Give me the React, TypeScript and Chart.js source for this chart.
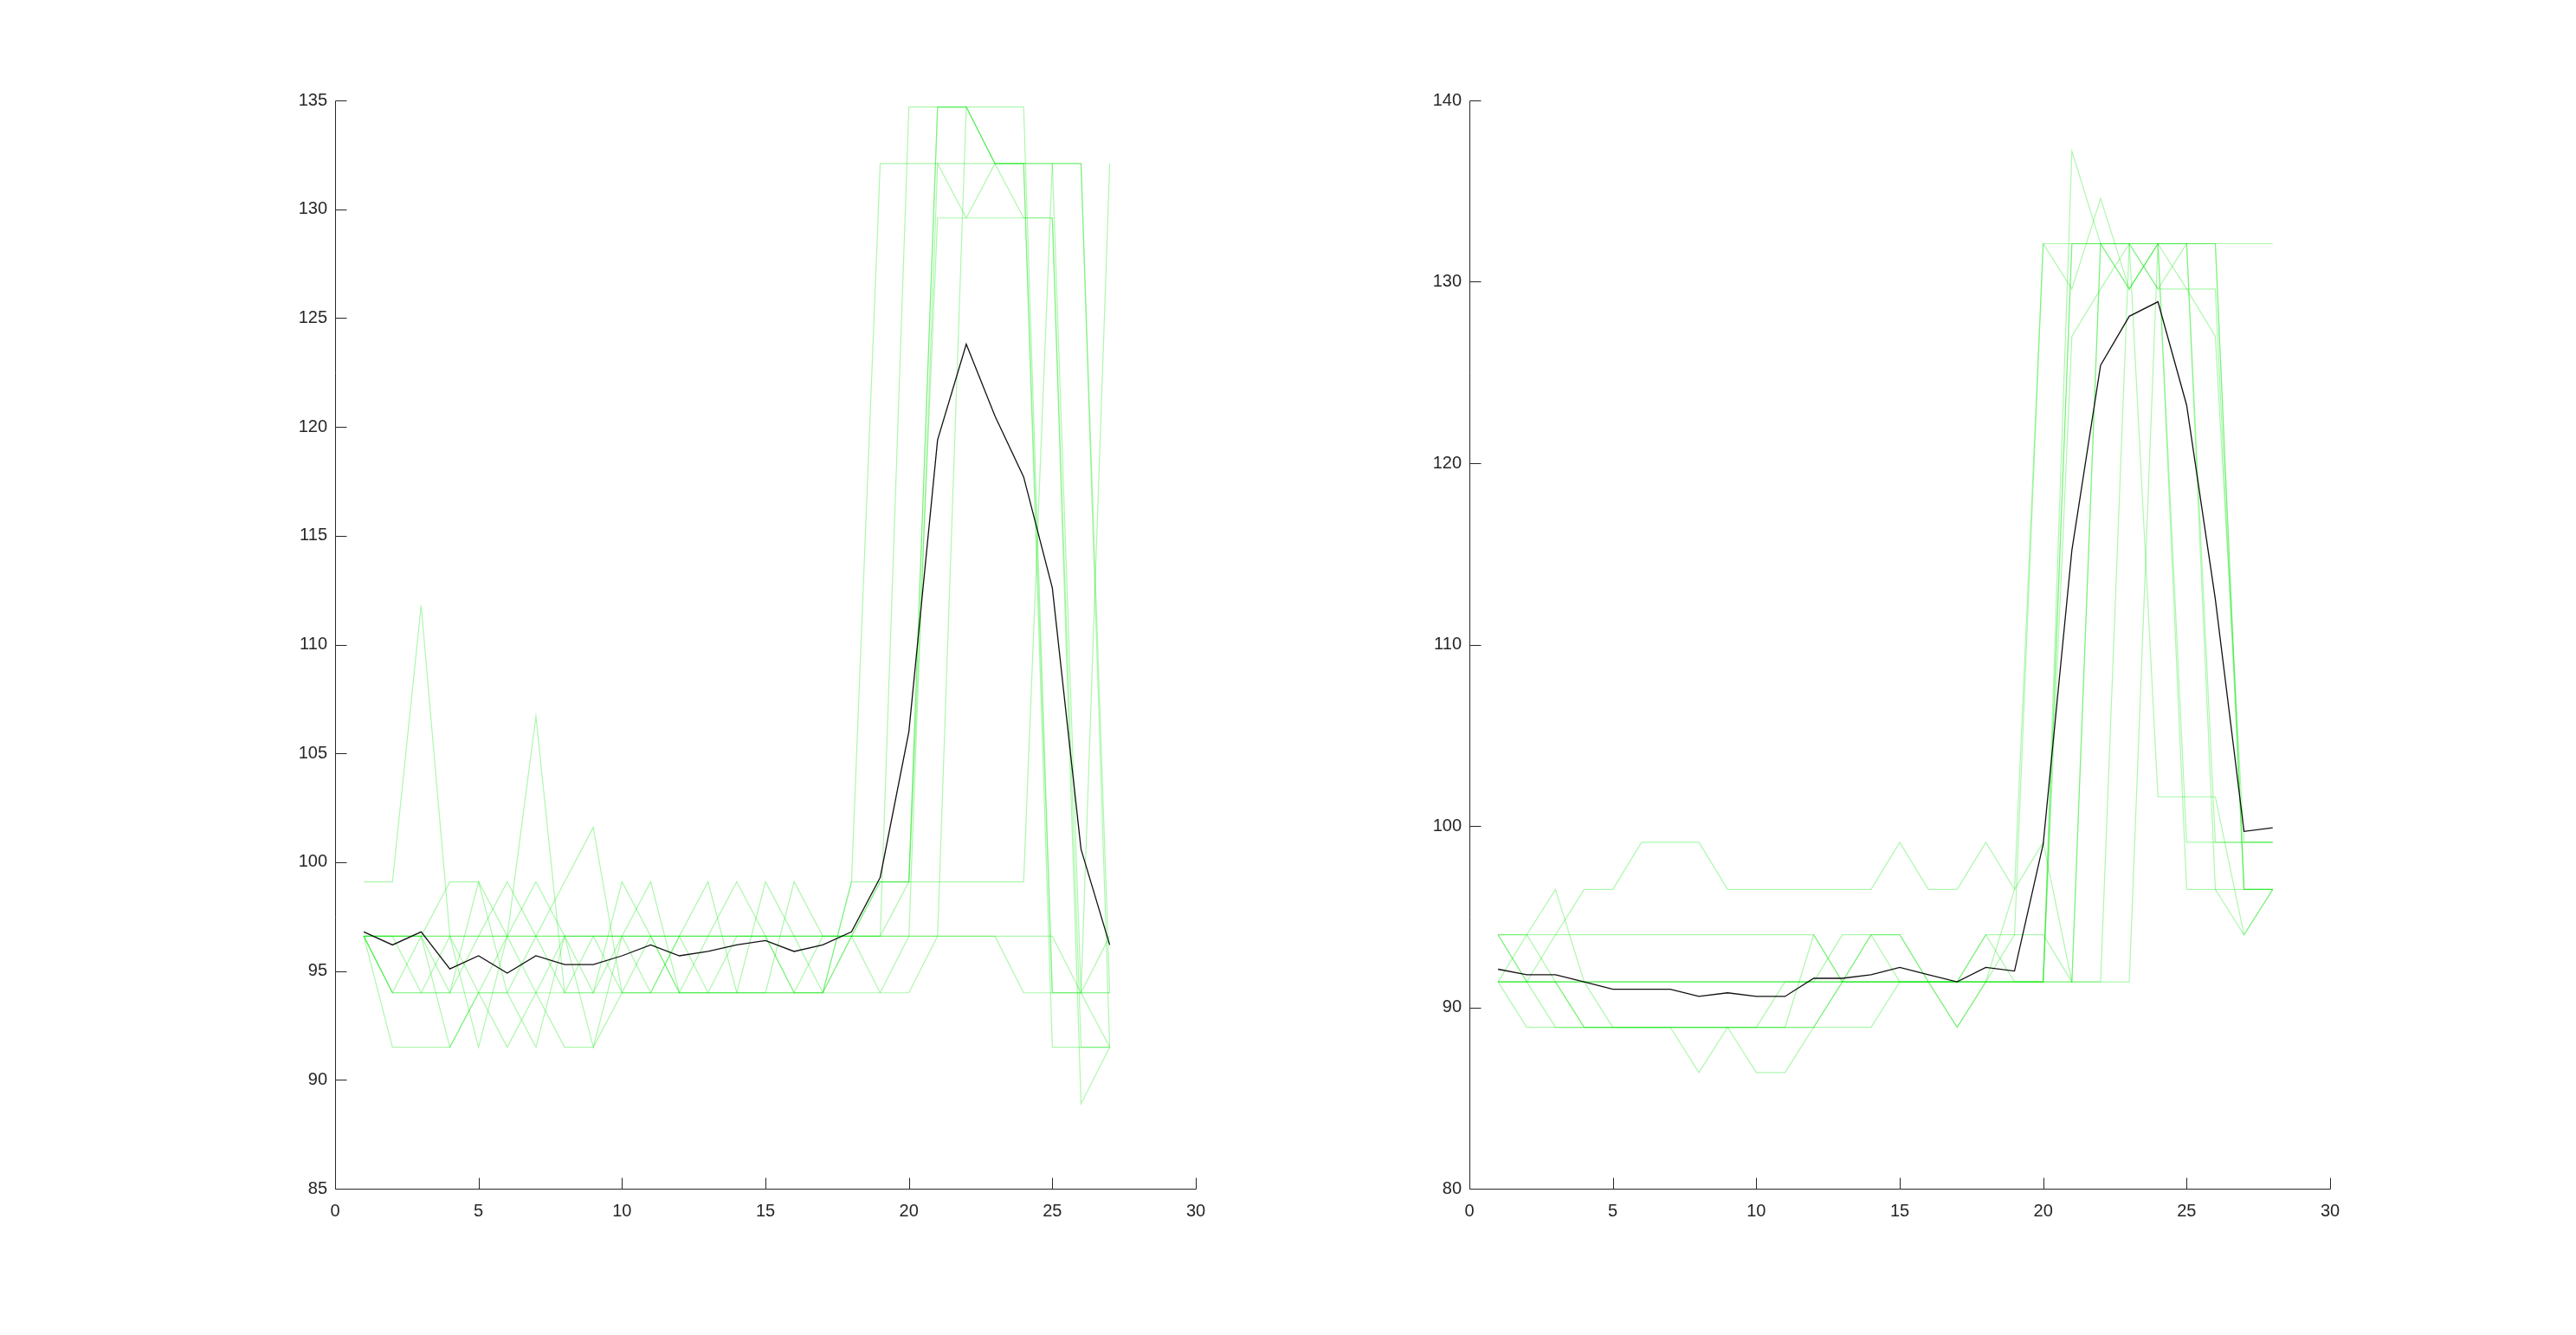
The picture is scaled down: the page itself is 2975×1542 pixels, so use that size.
import React, { useEffect, useRef } from "react";
import { Chart, registerables } from "chart.js";

Chart.register(...registerables);

// ---------- data: left panel ----------
const LEFT_X = [1, 2, 3, 4, 5, 6, 7, 8, 9, 10, 11, 12, 13, 14, 15, 16, 17, 18, 19, 20, 21, 22, 23, 24, 25, 26, 27];
const LEFT_Y_TICKS = [85, 90, 95, 100, 105, 110, 115, 120, 125, 130, 135];
const X_TICKS = [0, 5, 10, 15, 20, 25, 30];

const LEFT_T1 = [99.1, 99.1, 111.8, 96.6, 96.6, 96.6, 96.6, 96.6, 96.6, 96.6, 96.6, 96.6, 96.6, 96.6, 96.6, 96.6, 96.6, 96.6, 96.6, 96.6, 96.6, 96.6, 96.6, 96.6, 96.6, 94.0, 132.1];
const LEFT_T2 = [96.6, 91.5, 91.5, 91.5, 94.0, 91.5, 94.0, 91.5, 91.5, 94.0, 96.6, 94.0, 94.0, 94.0, 94.0, 94.0, 94.0, 99.1, 132.1, 132.1, 132.1, 132.1, 132.1, 132.1, 132.1, 132.1, 91.5];
const LEFT_T3 = [96.6, 94.0, 96.6, 99.1, 99.1, 94.0, 91.5, 96.6, 91.5, 96.6, 99.1, 94.0, 94.0, 96.6, 96.6, 94.0, 94.0, 96.6, 96.6, 134.7, 134.7, 134.7, 134.7, 134.7, 94.0, 94.0, 94.0];
const LEFT_T4 = [96.6, 94.0, 94.0, 96.6, 91.5, 96.6, 106.7, 94.0, 96.6, 94.0, 94.0, 94.0, 94.0, 94.0, 94.0, 94.0, 94.0, 99.1, 99.1, 99.1, 134.7, 134.7, 132.1, 132.1, 132.1, 94.0, 91.5];
const LEFT_T5 = [96.6, 96.6, 96.6, 91.5, 94.0, 94.0, 96.6, 99.1, 101.6, 94.0, 94.0, 96.6, 99.1, 94.0, 94.0, 94.0, 96.6, 96.6, 99.1, 99.1, 134.7, 134.7, 132.1, 129.6, 129.6, 88.9, 91.5];
const LEFT_T6 = [96.6, 96.6, 94.0, 94.0, 94.0, 96.6, 94.0, 96.6, 94.0, 99.1, 96.6, 94.0, 96.6, 99.1, 96.6, 94.0, 94.0, 96.6, 96.6, 99.1, 129.6, 129.6, 129.6, 129.6, 129.6, 91.5, 91.5];
const LEFT_T7 = [96.6, 96.6, 96.6, 94.0, 96.6, 99.1, 96.6, 94.0, 94.0, 94.0, 94.0, 94.0, 94.0, 94.0, 99.1, 96.6, 94.0, 94.0, 94.0, 96.6, 132.1, 129.6, 132.1, 132.1, 91.5, 91.5, 91.5];
const LEFT_T8 = [96.6, 96.6, 96.6, 96.6, 94.0, 94.0, 94.0, 94.0, 94.0, 96.6, 94.0, 96.6, 94.0, 94.0, 94.0, 99.1, 96.6, 96.6, 94.0, 94.0, 96.6, 134.7, 132.1, 132.1, 94.0, 94.0, 94.0];
const LEFT_T9 = [96.6, 96.6, 96.6, 96.6, 96.6, 96.6, 96.6, 96.6, 96.6, 96.6, 96.6, 96.6, 96.6, 96.6, 96.6, 96.6, 96.6, 96.6, 99.1, 99.1, 99.1, 99.1, 99.1, 99.1, 132.1, 132.1, 94.0];
const LEFT_T10 = [96.6, 94.0, 94.0, 94.0, 99.1, 96.6, 99.1, 96.6, 96.6, 96.6, 96.6, 96.6, 96.6, 96.6, 96.6, 96.6, 96.6, 96.6, 96.6, 96.6, 96.6, 96.6, 96.6, 94.0, 94.0, 94.0, 96.6];
const LEFT_MEAN = [96.8, 96.2, 96.8, 95.1, 95.7, 94.9, 95.7, 95.3, 95.3, 95.7, 96.2, 95.7, 95.9, 96.2, 96.4, 95.9, 96.2, 96.8, 99.3, 106.0, 119.4, 123.8, 120.5, 117.7, 112.6, 100.6, 96.2];

// ---------- data: right panel ----------
const RIGHT_X = [1, 2, 3, 4, 5, 6, 7, 8, 9, 10, 11, 12, 13, 14, 15, 16, 17, 18, 19, 20, 21, 22, 23, 24, 25, 26, 27, 28];
const RIGHT_Y_TICKS = [80, 90, 100, 110, 120, 130, 140];

const RIGHT_R1 = [94.0, 91.4, 94.0, 96.5, 96.5, 99.1, 99.1, 99.1, 96.5, 96.5, 96.5, 96.5, 96.5, 96.5, 99.1, 96.5, 96.5, 99.1, 96.5, 132.1, 132.1, 132.1, 132.1, 132.1, 132.1, 132.1, 132.1, 132.1];
const RIGHT_R2 = [94.0, 94.0, 94.0, 94.0, 94.0, 94.0, 94.0, 94.0, 94.0, 94.0, 94.0, 94.0, 91.4, 94.0, 94.0, 91.4, 91.4, 94.0, 94.0, 132.1, 129.6, 134.6, 129.6, 132.1, 129.6, 127.0, 99.1, 99.1];
const RIGHT_R3 = [91.4, 94.0, 96.5, 91.4, 88.9, 88.9, 88.9, 88.9, 88.9, 88.9, 88.9, 88.9, 91.4, 91.4, 91.4, 91.4, 88.9, 91.4, 91.4, 91.4, 137.2, 132.1, 132.1, 129.6, 129.6, 129.6, 96.5, 96.5];
const RIGHT_R4 = [91.4, 91.4, 91.4, 88.9, 88.9, 88.9, 88.9, 86.4, 88.9, 86.4, 86.4, 88.9, 91.4, 91.4, 91.4, 91.4, 91.4, 91.4, 91.4, 91.4, 132.1, 132.1, 129.6, 132.1, 132.1, 132.1, 96.5, 96.5];
const RIGHT_R5 = [94.0, 94.0, 91.4, 91.4, 91.4, 91.4, 91.4, 91.4, 91.4, 91.4, 91.4, 91.4, 91.4, 91.4, 91.4, 91.4, 91.4, 91.4, 91.4, 91.4, 127.0, 129.6, 132.1, 129.6, 132.1, 99.1, 99.1, 99.1];
const RIGHT_R6 = [91.4, 88.9, 88.9, 88.9, 88.9, 88.9, 88.9, 88.9, 88.9, 88.9, 88.9, 88.9, 88.9, 88.9, 91.4, 91.4, 91.4, 91.4, 91.4, 91.4, 132.1, 132.1, 132.1, 101.6, 101.6, 101.6, 94.0, 96.5];
const RIGHT_R7 = [91.4, 91.4, 88.9, 88.9, 88.9, 88.9, 88.9, 88.9, 88.9, 88.9, 91.4, 91.4, 91.4, 94.0, 91.4, 91.4, 88.9, 91.4, 94.0, 94.0, 91.4, 132.1, 132.1, 132.1, 99.1, 99.1, 99.1, 99.1];
const RIGHT_R8 = [94.0, 91.4, 91.4, 88.9, 88.9, 88.9, 88.9, 88.9, 88.9, 88.9, 88.9, 94.0, 91.4, 91.4, 91.4, 91.4, 91.4, 91.4, 96.5, 99.1, 91.4, 91.4, 91.4, 132.1, 96.5, 96.5, 96.5, 96.5];
const RIGHT_R9 = [91.4, 91.4, 91.4, 91.4, 91.4, 91.4, 91.4, 91.4, 91.4, 91.4, 91.4, 91.4, 91.4, 91.4, 91.4, 91.4, 91.4, 91.4, 91.4, 91.4, 91.4, 132.1, 129.6, 132.1, 132.1, 132.1, 96.5, 96.5];
const RIGHT_R10 = [91.4, 91.4, 91.4, 91.4, 91.4, 91.4, 91.4, 91.4, 91.4, 91.4, 91.4, 91.4, 94.0, 94.0, 94.0, 91.4, 91.4, 94.0, 91.4, 91.4, 91.4, 91.4, 132.1, 132.1, 132.1, 96.5, 94.0, 96.5];
const RIGHT_MEAN = [92.1, 91.8, 91.8, 91.4, 91.0, 91.0, 91.0, 90.6, 90.8, 90.6, 90.6, 91.6, 91.6, 91.8, 92.2, 91.8, 91.4, 92.2, 92.0, 99.0, 115.2, 125.4, 128.1, 128.9, 123.2, 112.5, 99.7, 99.9];

const LEFT_TRACES = [LEFT_T1, LEFT_T2, LEFT_T3, LEFT_T4, LEFT_T5, LEFT_T6, LEFT_T7, LEFT_T8, LEFT_T9, LEFT_T10];
const RIGHT_TRACES = [RIGHT_R1, RIGHT_R2, RIGHT_R3, RIGHT_R4, RIGHT_R5, RIGHT_R6, RIGHT_R7, RIGHT_R8, RIGHT_R9, RIGHT_R10];

// ---------- styling ----------
const AXIS_COLOR = "#262626";
const TRACE_COLOR = "rgba(0, 230, 0, 0.32)";
const MEAN_COLOR = "#111111";
const FONT = { family: "'Liberation Sans', Arial, Helvetica, sans-serif", size: 20 };

const matlabAxes = {
  id: "matlabAxes",
  afterDatasetsDraw(chart: any) {
    const { ctx, chartArea: ca, scales } = chart;
    const xs = scales.x;
    const ys = scales.y;
    const L = Math.round(ca.left) + 0.5;
    const B = Math.round(ca.bottom) + 0.5;
    ctx.save();
    ctx.strokeStyle = AXIS_COLOR;
    ctx.lineWidth = 1;
    ctx.beginPath();
    ctx.moveTo(L, Math.round(ca.top) + 0.5);
    ctx.lineTo(L, B);
    ctx.lineTo(Math.round(ca.right) + 0.5, B);
    xs.ticks.forEach((t: any) => {
      const px = Math.round(xs.getPixelForValue(t.value)) + 0.5;
      ctx.moveTo(px, B);
      ctx.lineTo(px, B - 13);
    });
    ys.ticks.forEach((t: any) => {
      const py = Math.round(ys.getPixelForValue(t.value)) + 0.5;
      ctx.moveTo(L, py);
      ctx.lineTo(L + 13, py);
    });
    ctx.stroke();
    ctx.restore();
  },
};

type PanelProps = {
  left: number;
  width: number;
  plotLeft: number;
  plotRight: number;
  xs: number[];
  traces: number[][];
  mean: number[];
  yTicks: number[];
};

function Panel({ left, width, plotLeft, plotRight, xs, traces, mean, yTicks }: PanelProps) {
  const ref = useRef<HTMLCanvasElement | null>(null);
  useEffect(() => {
    if (!ref.current) return;
    const toPts = (ys: number[]) => ys.map((y, i) => ({ x: xs[i], y }));
    const datasets: any[] = [
      {
        data: toPts(mean),
        borderColor: MEAN_COLOR,
        borderWidth: 1.3,
        pointRadius: 0,
        tension: 0,
        order: 0,
      },
      ...traces.map((t) => ({
        data: toPts(t),
        borderColor: TRACE_COLOR,
        borderWidth: 1.2,
        pointRadius: 0,
        tension: 0,
        order: 1,
      })),
    ];
    const yMin = yTicks[0];
    const yMax = yTicks[yTicks.length - 1];
    const chart = new Chart(ref.current, {
      type: "line",
      data: { datasets },
      options: {
        animation: false,
        responsive: false,
        devicePixelRatio: 1,
        layout: { padding: { top: 116, right: width - plotRight, left: 0, bottom: 0 } },
        plugins: { legend: { display: false }, tooltip: { enabled: false } },
        scales: {
          x: {
            type: "linear",
            min: X_TICKS[0],
            max: X_TICKS[X_TICKS.length - 1],
            afterBuildTicks: (s: any) => {
              s.ticks = X_TICKS.map((v) => ({ value: v }));
            },
            ticks: { font: FONT, color: AXIS_COLOR, padding: 14, maxRotation: 0, autoSkip: false },
            grid: { display: false, drawTicks: false },
            border: { display: false },
            afterFit: (s: any) => {
              s.height = 1542 - 1373;
            },
          },
          y: {
            type: "linear",
            min: yMin,
            max: yMax,
            afterBuildTicks: (s: any) => {
              s.ticks = yTicks.map((v) => ({ value: v }));
            },
            ticks: { font: FONT, color: AXIS_COLOR, padding: 9, autoSkip: false },
            grid: { display: false, drawTicks: false },
            border: { display: false },
            afterFit: (s: any) => {
              s.width = plotLeft;
            },
          },
        },
      },
      plugins: [matlabAxes],
    });
    return () => chart.destroy();
  }, []);
  return (
    <canvas
      ref={ref}
      width={width}
      height={1542}
      style={{ position: "absolute", left, top: 0, width, height: 1542 }}
    />
  );
}

export default function App() {
  return (
    <div
      style={{
        position: "absolute",
        left: 0,
        top: 0,
        width: 2975,
        height: 1542,
        background: "#ffffff",
        overflow: "hidden",
      }}
    >
      <Panel
        left={0}
        width={1500}
        plotLeft={387}
        plotRight={1381}
        xs={LEFT_X}
        traces={LEFT_TRACES}
        mean={LEFT_MEAN}
        yTicks={LEFT_Y_TICKS}
      />
      <Panel
        left={1500}
        width={1475}
        plotLeft={197}
        plotRight={1191}
        xs={RIGHT_X}
        traces={RIGHT_TRACES}
        mean={RIGHT_MEAN}
        yTicks={RIGHT_Y_TICKS}
      />
    </div>
  );
}
